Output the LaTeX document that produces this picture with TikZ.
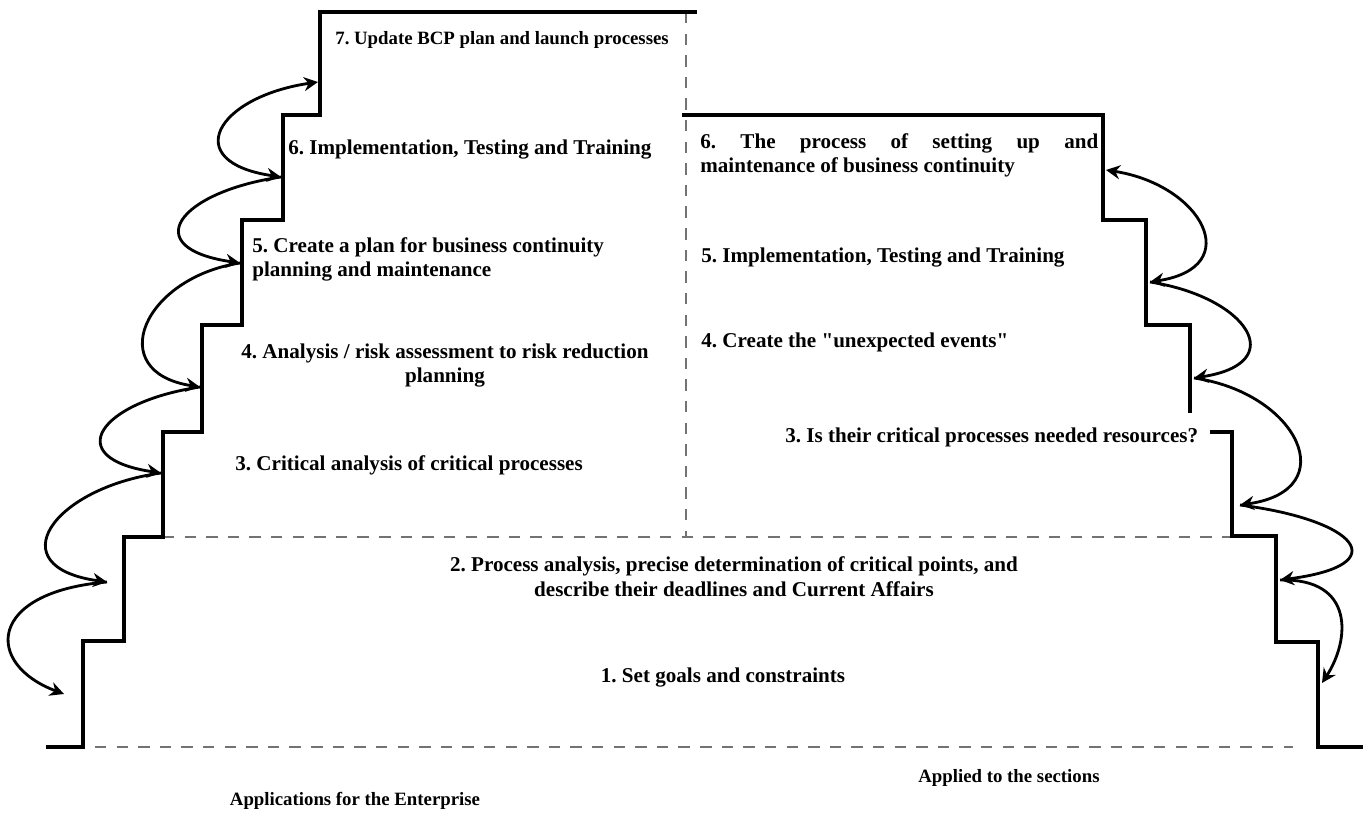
\documentclass[tikz,border=0pt]{standalone}
\usepackage{fontspec}
\setmainfont{Liberation Serif}[Ligatures=TeXOff]
\usepackage{tikz}
\usetikzlibrary{arrows.meta}
\tikzstyle{stair} = [line width=2pt,line join=miter]
\tikzstyle{guide} = [line width=1.5pt,black!55,dash pattern=on 6.5pt off 5.8pt]
\tikzstyle{climb} = [line width=1.6pt,-{Stealth[length=8pt,width=8pt]}]
\tikzstyle{climb both} = [line width=1.6pt,{Stealth[length=8pt,width=8pt]}-{Stealth[length=8pt,width=8pt]}]
\tikzstyle{step text} = [font=\bfseries\fontsize{12}{14}\selectfont\frenchspacing,inner sep=0pt]
\tikzstyle{side text} = [font=\bfseries\fontsize{10.7}{13}\selectfont\frenchspacing,inner sep=0pt]

\begin{document}
\begin{tikzpicture}[x=0.02cm,y=-0.02cm]
\useasboundingbox (0,0) rectangle (1367,814);

\draw[guide] (686,12) -- (686,537);
\draw[guide] (163,537) -- (1232,537);
\draw[guide] (95,747) -- (1293,747);

\draw[stair] (697,12) -- (320,12) -- (320,115) -- (283,115) -- (283,220) -- (242,220) -- (242,325) -- (202,325) -- (202,432) -- (163,432) -- (163,537) -- (124,537) -- (124,641) -- (83,641) -- (83,747) -- (46,747);
\draw[stair] (682,115) -- (1103,115) -- (1103,220) -- (1146,220) -- (1146,325) -- (1190,325) -- (1190,413);
\draw[stair] (1210,432) -- (1232,432) -- (1232,536) -- (1276,536) -- (1276,642) -- (1318,642) -- (1318,747) -- (1363,747);

\coordinate (p1) at (318,82);
\coordinate (p2) at (281,177);
\coordinate (p3) at (240,263);
\coordinate (p4) at (200,387);
\coordinate (p5) at (161,473);
\coordinate (p6) at (107,582);
\coordinate (p7) at (64,694);

\coordinate (q1) at (1106,170);
\coordinate (q2) at (1150,282);
\coordinate (q3) at (1194,378);
\coordinate (q4) at (1240,505);
\coordinate (q5) at (1280,580);
\coordinate (q6) at (1322,683);

\draw[climb both] (p1) .. controls +(-102,15) and +(-102,-15) .. (p2);
\foreach \a/\b/\d in {p2/p3/103,p3/p4/97,p4/p5/101,p5/p6/109}
{
 \draw[climb] (\a) .. controls +(-\d,15) and +(-\d,-15) .. (\b);
}
\draw[climb] (p6) .. controls +(-120,10) and +(-80,-30) .. (p7);

\draw[climb both] (q1) .. controls +(96,15) and +(96,-15) .. (q2);
\foreach \a/\b/\d in {q2/q3/97,q3/q4/104,q4/q5/117}
{
 \draw[climb] (\a) .. controls +(\d,15) and +(\d,-15) .. (\b);
}
\draw[climb] (q5) .. controls +(75,-2) and +(28,-43) .. (q6);

\node[side text,anchor=base west] (t7) at (335,45) {7. Update BCP plan and launch processes};
\node[step text,anchor=base west] (l6) at (288,155) {6. Implementation, Testing and Training};
\node[step text,anchor=base west,align=left] (l5) at (252,277) {5. Create a plan for business continuity\\planning and maintenance};
\node[step text,anchor=base,align=center] (l4) at (445,383) {4. Analysis / risk assessment to risk reduction\\planning};
\node[step text,anchor=base west] (l3) at (235,470) {3. Critical analysis of critical processes};
\node[step text,anchor=base,align=center] (l2) at (734,596) {2. Process analysis, precise determination of critical points, and\\describe their deadlines and Current Affairs};
\node[step text,anchor=base] (l1) at (723,682) {1. Set goals and constraints};

\node[step text,anchor=base west,align=left] (r6) at (700,173) {\makebox[7.96cm][s]{6. The process of setting up and}\\maintenance of business continuity};
\node[step text,anchor=base west] (r5) at (701,263) {5. Implementation, Testing and Training};
\node[step text,anchor=base west] (r4) at (701,348) {4. Create the "unexpected events"};
\node[step text,anchor=base west] (r3) at (785,442) {3. Is their critical processes needed resources?};

\node[side text,anchor=base] (ent) at (355,805) {Applications for the Enterprise};
\node[side text,anchor=base] (sec) at (1009,782) {Applied to the sections};
\end{tikzpicture}
\end{document}
